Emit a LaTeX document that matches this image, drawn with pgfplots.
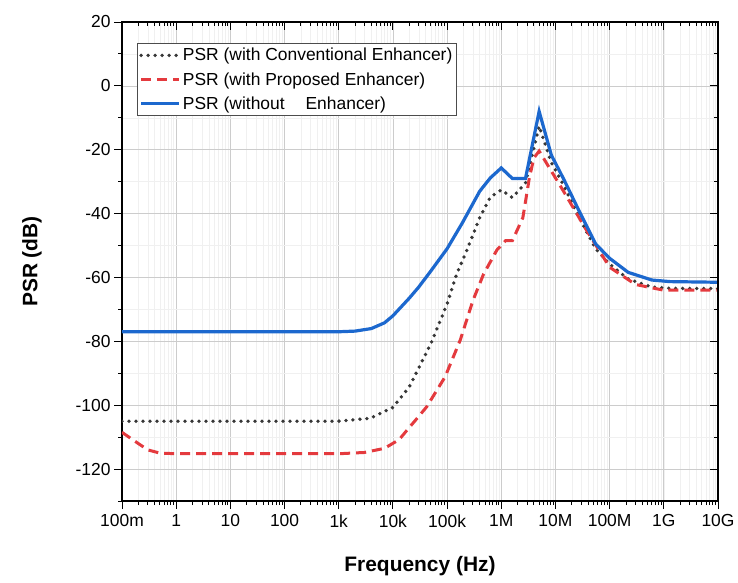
\documentclass[border=0pt]{standalone}
\usepackage{pgfplots}
\pgfplotsset{compat=1.18}
\usepackage{fontspec}
\setmainfont{Liberation Sans}
\definecolor{cblue}{RGB}{28,104,206}
\definecolor{cred}{RGB}{228,58,62}
\definecolor{cgray}{RGB}{55,55,55}
\begin{document}
\begin{tikzpicture}
\useasboundingbox (-122bp,-82bp) rectangle (616bp,501bp);
\begin{axis}[
  at={(0,0)}, anchor=south west,
  scale only axis, width=596bp, height=479bp,
  xmode=log, xmin=0.1, xmax=1e10, ymin=-130, ymax=20,
  xtick={0.1,1,10,100,1000,1e4,1e5,1e6,1e7,1e8,1e9,1e10},
  xticklabels={100m,1,10,100,1k,10k,100k,1M,10M,100M,1G,10G},
  ytick={-120,-100,-80,-60,-40,-20,0,20},
  minor ytick={-130,-110,-90,-70,-50,-30,-10,10},
  xtick pos=lower, ytick pos=left, tick align=outside,
  major tick length=8bp, minor tick length=4bp,
  every tick/.style={black, line width=0.9pt},
  axis line style={line width=1.1pt},
  grid=both,
  major grid style={draw=black!20, line width=0.7pt},
  minor grid style={draw=black!6, line width=0.5pt},
  /pgf/number format/assume math mode=true,
  tick label style={font=\fontsize{17.5}{20}\selectfont},
  xticklabel style={yshift=-2bp},
  xlabel={Frequency (Hz)}, ylabel={PSR (dB)},
  every axis x label/.style={at={(axis description cs:0.5,0)}, yshift=-65bp, anchor=center, font=\bfseries\fontsize{21}{24}\selectfont},
  every axis y label/.style={at={(axis description cs:0,0.5)}, xshift=-90bp, rotate=90, anchor=center, font=\bfseries\fontsize{21}{24}\selectfont},
  legend style={at={(axis description cs:0.025,0.956)}, anchor=north west,
    draw=black!70, line width=0.6pt, font=\fontsize{17.5}{20}\selectfont,
    inner xsep=2bp, inner ysep=3bp, row sep=6bp, fill=white},
  legend cell align=left,
  legend image code/.code={\draw[#1] (0bp,0bp) -- (38bp,0bp);},
]
\addplot[cgray, line width=3.8bp, line cap=round, dash pattern=on 0bp off 7bp] coordinates {
(0.1,-105)(1000,-105)(3800,-104.1)(10000,-100.7)(20000,-94.3)(50000,-80.8)(100000,-68.3)(150000,-59)(230000,-51.6)(400000,-41.3)(630000,-34.8)(1e6,-32.6)(1.6e6,-35)(2.8e6,-30.4)(5e6,-12.6)(8.4e6,-24)(1.4e7,-31)(2.7e7,-41)(5.5e7,-51)(1e8,-55.8)(2.2e8,-60.5)(6e8,-63)(1.3e9,-63.4)(1e10,-63.5)
};
\addlegendentry{PSR (with Conventional Enhancer)}
\addplot[cred, line width=3bp, dash pattern=on 10bp off 6bp] coordinates {
(0.1,-108.5)(0.2,-112)(0.3,-114)(0.5,-115)(1,-115.2)(1000,-115.2)(3000,-114.8)(7000,-113.5)(13000,-110.8)(20000,-107)(30000,-103.5)(42000,-100.5)(92000,-91.1)(175000,-79.6)(300000,-67.2)(470000,-59)(830000,-51.4)(1.2e6,-48.5)(1.6e6,-48.5)(2.5e6,-41.3)(3.3e6,-28.8)(4e6,-22.6)(5e6,-20.4)(8.4e6,-26.7)(1.3e7,-32)(3.8e7,-45.4)(1e8,-56.8)(3e8,-62.2)(1e9,-64)(1e10,-64)
};
\addlegendentry{PSR (with Proposed Enhancer)}
\addplot[cblue, line width=3.2bp] coordinates {
(0.1,-77)(100,-77)(1000,-77)(2000,-76.8)(4000,-76)(7000,-74.2)(10000,-72)(20000,-66.5)(30000,-63)(50000,-58)(100000,-51)(190000,-43)(400000,-33)(630000,-28.8)(1e6,-25.7)(1.6e6,-29)(2.8e6,-29)(5e6,-8)(8.4e6,-21.7)(1.4e7,-29)(2.7e7,-39)(5.5e7,-49.5)(1e8,-54)(2.2e8,-58.4)(6e8,-60.8)(1.3e9,-61.3)(1e10,-61.5)
};
\addlegendentry{PSR (without\hspace{1.2em}Enhancer)}
\end{axis}
\begin{axis}[
  at={(0,0)}, anchor=south west,
  scale only axis, width=596bp, height=479bp,
  xmode=log, xmin=0.1, xmax=1e10, ymin=-130, ymax=20,
  xtick={0.1,1,10,100,1000,1e4,1e5,1e6,1e7,1e8,1e9,1e10},
  ytick={-120,-100,-80,-60,-40,-20,0,20},
  minor ytick={-130,-110,-90,-70,-50,-30,-10,10},
  axis x line*=top, axis y line*=right, tick align=inside,
  major tick length=8bp, minor tick length=4bp,
  every tick/.style={black, line width=0.9pt},
  axis line style={line width=1.1pt, -},
  xticklabels={}, yticklabels={},
]
\end{axis}
\end{tikzpicture}
\end{document}
